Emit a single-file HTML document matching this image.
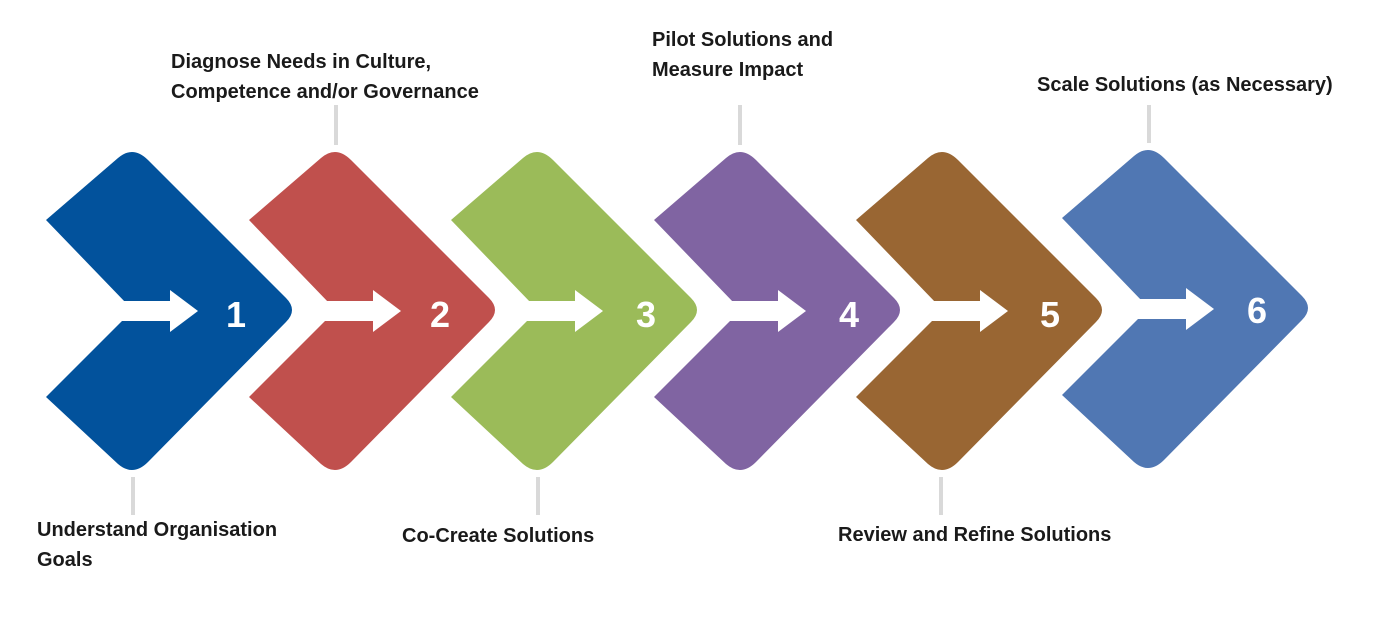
<!DOCTYPE html>
<html><head><meta charset="utf-8"><style>
html,body{margin:0;padding:0;background:#fff;}
body{width:1396px;height:617px;overflow:hidden;position:relative;font-family:"Liberation Sans",sans-serif;}
.t{position:absolute;font-weight:bold;font-size:20px;line-height:30px;color:#1a1a1a;white-space:nowrap;}
</style></head><body>
<svg width="1396" height="617" style="position:absolute;left:0;top:0">
<defs>
<g id="ch">
<path d="M0,75 L72,13 Q87,0 102,15 L240,153 Q252,165 240,177 L102,317 Q87,332 72,319 L0,252 L80,172 L80,158 Z"/>
</g>
<g id="ar" fill="#fff">
<rect x="74" y="156" width="52" height="20"/>
<polygon points="124,145 152,166 124,187"/>
</g>
</defs>
<g stroke="#d9d9d9" stroke-width="4">
<line x1="133" y1="477" x2="133" y2="515"/>
<line x1="336" y1="105" x2="336" y2="145"/>
<line x1="538" y1="477" x2="538" y2="515"/>
<line x1="740" y1="105" x2="740" y2="145"/>
<line x1="941" y1="477" x2="941" y2="515"/>
<line x1="1149" y1="105" x2="1149" y2="143"/>
</g>
<g transform="translate(46,145)" fill="#02529c"><use href="#ch"/><use href="#ar"/></g>
<g transform="translate(249,145)" fill="#c0504d"><use href="#ch"/><use href="#ar"/></g>
<g transform="translate(451,145)" fill="#9bbb59"><use href="#ch"/><use href="#ar"/></g>
<g transform="translate(654,145)" fill="#8064a2"><use href="#ch"/><use href="#ar"/></g>
<g transform="translate(856,145)" fill="#996633"><use href="#ch"/><use href="#ar"/></g>
<g transform="translate(1062,143)" fill="#5077b3"><use href="#ch"/><use href="#ar"/></g>
<g fill="#fff" font-family="Liberation Sans, sans-serif" font-weight="bold" font-size="36" text-anchor="middle">
<text x="236" y="327">1</text>
<text x="440" y="327">2</text>
<text x="646" y="327">3</text>
<text x="849" y="327">4</text>
<text x="1050" y="327">5</text>
<text x="1257" y="323">6</text>
</g>
</svg>
<div class="t" style="left:171px;top:47px">Diagnose Needs in Culture,<br>Competence and/or Governance</div>
<div class="t" style="left:652px;top:25px">Pilot Solutions and<br>Measure Impact</div>
<div class="t" style="left:1037px;top:70px">Scale Solutions (as Necessary)</div>
<div class="t" style="left:37px;top:515px">Understand Organisation<br>Goals</div>
<div class="t" style="left:402px;top:521px">Co-Create Solutions</div>
<div class="t" style="left:838px;top:520px">Review and Refine Solutions</div>
</body></html>
